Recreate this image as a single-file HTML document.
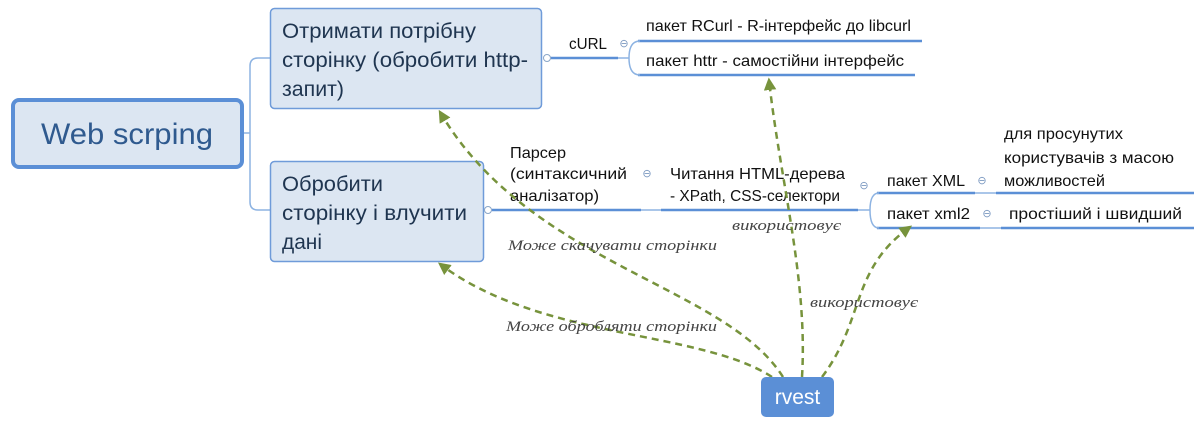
<!DOCTYPE html>
<html><head><meta charset="utf-8"><style>
html,body{margin:0;padding:0;background:#fff;width:1194px;height:430px;overflow:hidden}
svg{display:block}
.t{font-family:"Liberation Sans","DejaVu Sans",sans-serif;fill:#111}
.i{font-family:"Liberation Serif","DejaVu Serif",serif;font-style:italic;font-size:15px;fill:#444}
</style></head><body>
<svg width="1194" height="430" viewBox="0 0 1194 430" xmlns="http://www.w3.org/2000/svg">
<defs>
<marker id="a" viewBox="0 0 10 10" refX="8" refY="5" markerWidth="5" markerHeight="5" orient="auto-start-reverse">
<path d="M0,0 L10,5 L0,10 z" fill="#77933c"/></marker>
</defs>
<path d="M243,133 H250 M270,58 H258 Q250,58 250,66 V202 Q250,210 258,210 H270" fill="none" stroke="#8db3e2" stroke-width="1.5"/>
<rect x="13" y="100" width="229" height="67" rx="6" fill="#dce6f2" stroke="#5b8fd6" stroke-width="4"/>
<text x="41" y="144" class="t" style="font-size:30px;fill:#2f5a8f" textLength="172" lengthAdjust="spacingAndGlyphs">Web scrping</text>
<rect x="270.5" y="8.5" width="271" height="100" rx="4" fill="#dce6f2" stroke="#6f9bd9" stroke-width="1.5"/>
<g class="t" style="font-size:21px;fill:#1f3550">
<text x="282" y="38" textLength="194" lengthAdjust="spacingAndGlyphs">Отримати потрібну</text>
<text x="282" y="67" textLength="246" lengthAdjust="spacingAndGlyphs">сторінку (обробити http-</text>
<text x="282" y="96" textLength="62" lengthAdjust="spacingAndGlyphs">запит)</text>
</g>
<rect x="270.5" y="161.5" width="213" height="100" rx="4" fill="#dce6f2" stroke="#6f9bd9" stroke-width="1.5"/>
<g class="t" style="font-size:21px;fill:#1f3550">
<text x="282" y="191" textLength="101" lengthAdjust="spacingAndGlyphs">Обробити</text>
<text x="282" y="220" textLength="185" lengthAdjust="spacingAndGlyphs">сторінку і влучити</text>
<text x="282" y="249" textLength="40" lengthAdjust="spacingAndGlyphs">дані</text>
</g>
<g fill="none" stroke="#5b8fd6" stroke-width="2.5">
<line x1="551" y1="58" x2="618" y2="58"/>
<line x1="638" y1="41" x2="922" y2="41"/>
<line x1="638" y1="75" x2="915" y2="75"/>
<line x1="492" y1="210" x2="641" y2="210"/>
<line x1="661" y1="210" x2="858" y2="210"/>
<line x1="877" y1="193" x2="975" y2="193"/>
<line x1="996" y1="193" x2="1194" y2="193"/>
<line x1="877" y1="228" x2="980" y2="228"/>
<line x1="1001" y1="228" x2="1194" y2="228"/>
</g>
<g fill="none" stroke="#8db3e2" stroke-width="1.5">
<path d="M618,58 H629"/>
<path d="M640,41 Q629,41 629,58 Q629,75 640,75"/>
<path d="M641,210 H661 M858,210 H870"/>
<path d="M879,193 Q870,193 870,210 Q870,228 879,228"/>
<path d="M975,193 H996 M980,228 H1001"/>
</g>
<g fill="#fff" stroke="#8aa6c8" stroke-width="1">
<circle cx="547" cy="58" r="3.5"/><circle cx="488" cy="210" r="3.5"/>
</g>
<g class="t" style="font-size:11px;fill:#7a98c0" text-anchor="middle">
<text x="624" y="47">⊖</text><text x="647" y="177">⊖</text><text x="864" y="189">⊖</text><text x="982" y="184">⊖</text><text x="987" y="217">⊖</text>
</g>
<g class="t" style="font-size:16px">
<text x="569" y="49" textLength="38" lengthAdjust="spacingAndGlyphs">cURL</text>
<text x="646" y="31" textLength="265" lengthAdjust="spacingAndGlyphs">пакет RCurl - R-інтерфейс до libcurl</text>
<text x="646" y="66" textLength="258" lengthAdjust="spacingAndGlyphs">пакет httr - самостійни інтерфейс</text>
<text x="510" y="158" textLength="56" lengthAdjust="spacingAndGlyphs">Парсер</text>
<text x="510" y="179" textLength="117" lengthAdjust="spacingAndGlyphs">(синтаксичний</text>
<text x="510" y="201" textLength="89" lengthAdjust="spacingAndGlyphs">аналізатор)</text>
<text x="670" y="179" textLength="175" lengthAdjust="spacingAndGlyphs">Читання HTML-дерева</text>
<text x="670" y="201" textLength="170" lengthAdjust="spacingAndGlyphs">- XPath, CSS-селектори</text>
<text x="887" y="186" textLength="78" lengthAdjust="spacingAndGlyphs">пакет XML</text>
<text x="887" y="219" textLength="83" lengthAdjust="spacingAndGlyphs">пакет xml2</text>
<text x="1004" y="139" textLength="119" lengthAdjust="spacingAndGlyphs">для просунутих</text>
<text x="1004" y="163" textLength="170" lengthAdjust="spacingAndGlyphs">користувачів з масою</text>
<text x="1004" y="186" textLength="101" lengthAdjust="spacingAndGlyphs">можливостей</text>
<text x="1009" y="219" textLength="173" lengthAdjust="spacingAndGlyphs">простіший і швидший</text>
</g>
<g fill="none" stroke="#77933c" stroke-width="2.5" stroke-dasharray="7,5" marker-end="url(#a)">
<path d="M783,377 C725,285 530,265 440,112"/>
<path d="M772,377 C700,330 540,340 440,264"/>
<path d="M802,377 C808,280 780,180 769,80"/>
<path d="M822,377 C865,320 850,270 910,227"/>
</g>
<g class="i">
<text x="508" y="250" textLength="209" lengthAdjust="spacingAndGlyphs">Може скачувати сторінки</text>
<text x="506" y="331" textLength="211" lengthAdjust="spacingAndGlyphs">Може обробляти сторінки</text>
<text x="732" y="230" textLength="109" lengthAdjust="spacingAndGlyphs">використовує</text>
<text x="810" y="307" textLength="108" lengthAdjust="spacingAndGlyphs">використовує</text>
</g>
<rect x="761" y="377" width="73" height="40" rx="5" fill="#5b8fd6"/>
<text x="797.5" y="404" text-anchor="middle" class="t" style="font-size:21px;fill:#fff">rvest</text>
</svg>
</body></html>
